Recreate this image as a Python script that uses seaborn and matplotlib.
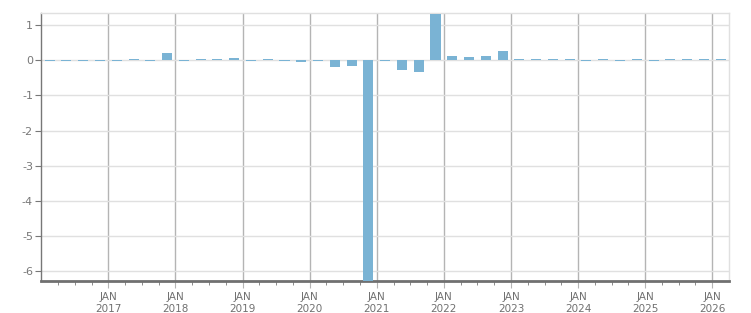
import matplotlib
matplotlib.use("Agg")
import matplotlib.pyplot as plt
import seaborn as sns
import numpy as np
import pandas as pd

quarters = [
    "2016Q1", "2016Q2", "2016Q3", "2016Q4",
    "2017Q1", "2017Q2", "2017Q3", "2017Q4",
    "2018Q1", "2018Q2", "2018Q3", "2018Q4",
    "2019Q1", "2019Q2", "2019Q3", "2019Q4",
    "2020Q1", "2020Q2", "2020Q3", "2020Q4",
    "2021Q1", "2021Q2", "2021Q3", "2021Q4",
    "2022Q1", "2022Q2", "2022Q3", "2022Q4",
    "2023Q1", "2023Q2", "2023Q3", "2023Q4",
    "2024Q1", "2024Q2", "2024Q3", "2024Q4",
    "2025Q1", "2025Q2", "2025Q3", "2025Q4",
    "2026Q1",
]
values = [
    -0.01, -0.01, -0.01, -0.01,
    -0.01, 0.03, -0.01, 0.22,
    -0.01, 0.03, 0.03, 0.06,
    -0.01, 0.03, -0.01, -0.05,
    -0.01, -0.19, -0.16, -6.35,
    -0.01, -0.28, -0.33, 1.32,
    0.12, 0.10, 0.12, 0.27,
    0.03, 0.03, 0.03, 0.03,
    -0.02, 0.03, -0.02, 0.03,
    -0.02, 0.03, 0.03, 0.03,
    0.03,
]
year_ticks = list(range(2017, 2027))
year_labels = [f"JAN\n{y}" for y in year_ticks]
y_ticks = [1, 0, -1, -2, -3, -4, -5, -6]

# position of each bar: middle of its quarter, in decimal years
pos = [int(q[:4]) + (int(q[-1]) - 1) * 0.25 + 0.125 for q in quarters]
df = pd.DataFrame({"t": pos, "v": values})

fig = plt.figure(figsize=(7.51, 3.13), dpi=100)
ax = fig.add_axes([41.3 / 751, 1 - 281 / 313, (728.7 - 41.3) / 751, (281 - 13) / 313])

sns.barplot(data=df, x="t", y="v", native_scale=True, width=0.6,
            color="#7AB3D4", saturation=1, ax=ax, zorder=3, errorbar=None)

ax.set_xlim(2016.0, 2026.245)
ax.set_ylim(-6.29, 1.35)
ax.set_xlabel("")
ax.set_ylabel("")

ax.set_xticks(year_ticks)
ax.set_xticklabels(year_labels)
ax.set_xticks(np.arange(2016.25, 2026.25, 0.25), minor=True)
ax.set_yticks(y_ticks)
ax.set_yticklabels([str(v) for v in y_ticks])

ax.grid(axis="x", which="major", color="#b4b4b4", lw=1, zorder=0)
ax.grid(axis="y", which="major", color="#e0e0e0", lw=1, zorder=0)
ax.set_axisbelow(True)

for s in ["top", "right"]:
    ax.spines[s].set_color("#e0e0e0")
    ax.spines[s].set_linewidth(1)
ax.spines["left"].set_color("#777777")
ax.spines["left"].set_linewidth(1)
ax.spines["bottom"].set_color("#707070")
ax.spines["bottom"].set_linewidth(2)

ax.tick_params(axis="x", which="major", length=5, color="#b4b4b4", labelsize=7.5,
               labelcolor="#707070", pad=3)
ax.tick_params(axis="x", which="minor", length=3, color="#777777")
ax.tick_params(axis="y", which="major", length=4, color="#777777", labelsize=8,
               labelcolor="#777777", pad=2)
for lbl in ax.get_xticklabels():
    lbl.set_linespacing(1.2)

fig.savefig("out.png", dpi=100)
